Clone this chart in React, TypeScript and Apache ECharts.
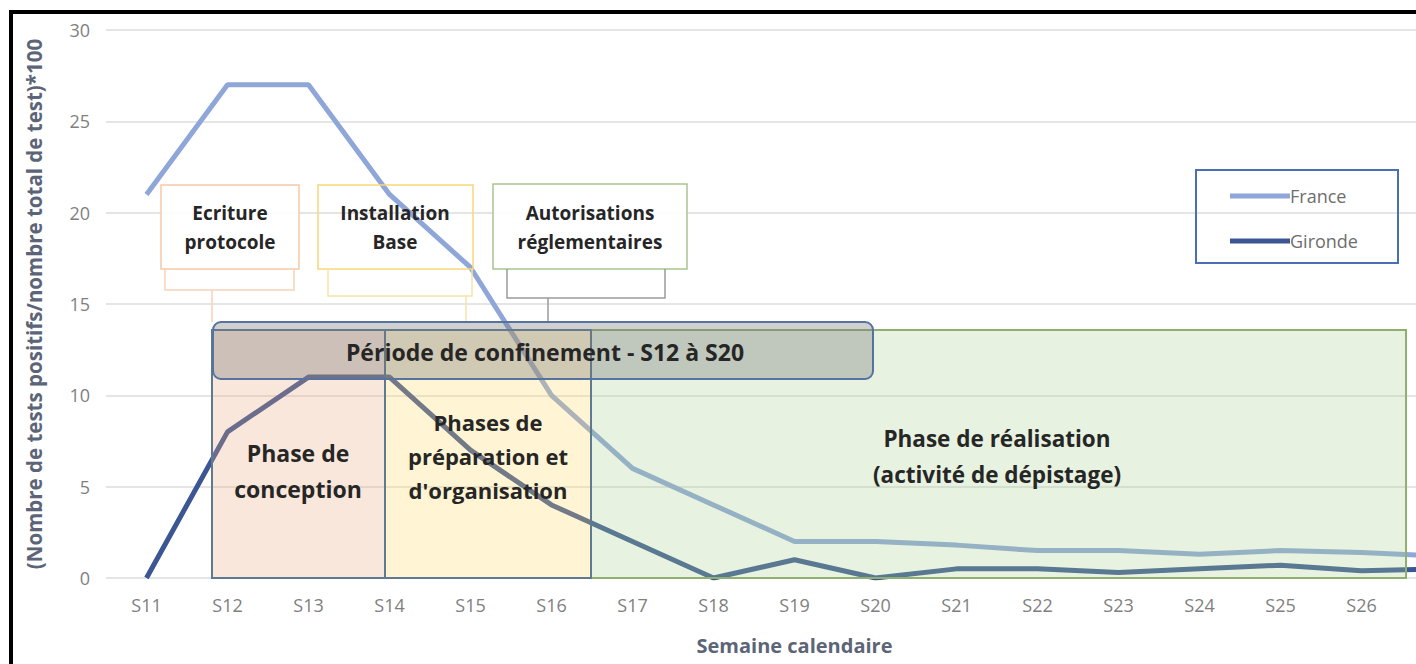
import React, { useEffect, useRef } from "react";
import * as echarts from "echarts";

const weeks = ["S11","S12","S13","S14","S15","S16","S17","S18","S19","S20","S21","S22","S23","S24","S25","S26","S27"];
const france = [21, 27, 27, 21, 17, 10, 6, 4, 2, 2, 1.8, 1.5, 1.5, 1.3, 1.5, 1.4, 1.2];
const gironde = [0, 8, 11, 11, 7, 4, 2, 0, 1, 0, 0.5, 0.5, 0.3, 0.5, 0.7, 0.4, 0.5];
const yTicks = [0, 5, 10, 15, 20, 25, 30];

const FONT = "'Open Sans', 'Noto Sans', sans-serif";
const DARK = "#262626";

export default function App() {
  const ref = useRef<HTMLDivElement>(null);
  useEffect(() => {
    if (!ref.current) return;
    const chart = echarts.init(ref.current, undefined, { renderer: "svg" });
    const boldText = (x: number, y: number, text: string, size: number, lh: number) => ({
      type: "text", x, y, z: 120,
      style: { text, fill: DARK, font: `bold ${size}px ${FONT}`, align: "center", verticalAlign: "middle", lineHeight: lh },
    });
    chart.setOption({
      animation: false,
      backgroundColor: "#ffffff",
      textStyle: { fontFamily: FONT },
      grid: { left: 106, right: 17, top: 30, bottom: 86, containLabel: false, outerBoundsMode: "none" },
      xAxis: {
        type: "category",
        data: weeks,
        boundaryGap: true,
        name: "Semaine calendaire",
        nameLocation: "middle",
        nameGap: 57,
        nameTextStyle: { color: "#5B6577", fontWeight: "bold", fontSize: 20, fontFamily: FONT },
        axisLine: { show: false },
        axisTick: { show: false },
        axisLabel: {
          color: "#7F7F7F", fontSize: 18, margin: 18, fontFamily: FONT,
          formatter: (v: string) => (v === weeks[weeks.length - 1] ? "" : v),
        },
        splitLine: { show: false },
      },
      yAxis: {
        type: "value",
        min: yTicks[0],
        max: yTicks[yTicks.length - 1],
        interval: 5,
        name: "(Nombre de tests positifs/nombre total de test)*100",
        nameLocation: "middle",
        nameGap: 62,
        nameRotate: 90,
        nameTextStyle: { color: "#5B6577", fontWeight: "bold", fontSize: 20.5, fontFamily: FONT },
        axisLine: { show: false },
        axisTick: { show: false },
        axisLabel: { color: "#7F7F7F", fontSize: 18, margin: 16, fontFamily: FONT },
        splitLine: { lineStyle: { color: "#DCDCDC", width: 1.5 } },
      },
      series: [
        {
          name: "France", type: "line", data: france, symbol: "none",
          lineStyle: { color: "#8EA6D8", width: 5 }, itemStyle: { color: "#8EA6D8" },
        },
        {
          name: "Gironde", type: "line", data: gironde, symbol: "none",
          lineStyle: { color: "#3B5693", width: 5 }, itemStyle: { color: "#3B5693" },
        },
      ],
      legend: {
        orient: "vertical",
        left: 1225,
        top: 182,
        itemWidth: 60,
        itemHeight: 5,
        itemGap: 27,
        icon: "rect",
        textStyle: { color: "#6E6E6E", fontSize: 18, fontFamily: FONT, padding: [0, 0, 0, -5] },
        data: ["France", "Gironde"],
      },
      graphic: [
        { type: "rect", z: 130, shape: { x: 11, y: 12, width: 1500, height: 700 }, style: { fill: "none", stroke: "#000", lineWidth: 4 } },
        { type: "rect", z: 100, shape: { x: 1196, y: 170, width: 202, height: 93 }, style: { fill: "none", stroke: "#4A6FB5", lineWidth: 2 } },
        { type: "rect", z: 100, shape: { x: 161, y: 185, width: 138, height: 84 }, style: { fill: "rgba(255,255,255,0.9)", stroke: "#F6C9A6", lineWidth: 1.5 } },
        { type: "polyline", z: 100, shape: { points: [[165, 269], [165, 290], [294, 290], [294, 269]] }, style: { fill: "none", stroke: "#F6D2BA", lineWidth: 1.5 } },
        { type: "line", z: 100, shape: { x1: 212, y1: 290, x2: 212, y2: 322 }, style: { stroke: "#F6D2BA", lineWidth: 1.5 } },
        { type: "rect", z: 100, shape: { x: 318, y: 185, width: 155, height: 84 }, style: { fill: "none", stroke: "#F7D779", lineWidth: 1.5 } },
        { type: "polyline", z: 100, shape: { points: [[328, 269], [328, 296], [472, 296], [472, 269]] }, style: { fill: "none", stroke: "#F7E3A8", lineWidth: 1.5 } },
        { type: "line", z: 100, shape: { x1: 466, y1: 296, x2: 466, y2: 322 }, style: { stroke: "#F7E3A8", lineWidth: 1.5 } },
        { type: "rect", z: 100, shape: { x: 493, y: 184, width: 194, height: 85 }, style: { fill: "rgba(255,255,255,0.9)", stroke: "#A9C58F", lineWidth: 1.5 } },
        { type: "polyline", z: 100, shape: { points: [[507, 269], [507, 298], [665, 298], [665, 269]] }, style: { fill: "none", stroke: "#9A9A9A", lineWidth: 1.5 } },
        { type: "line", z: 100, shape: { x1: 548, y1: 298, x2: 548, y2: 322 }, style: { stroke: "#9A9A9A", lineWidth: 1.5 } },
        boldText(230, 227, "Ecriture\nprotocole", 19, 29),
        boldText(395, 227, "Installation\nBase", 19, 29),
        boldText(590, 227, "Autorisations\nréglementaires", 19, 29),
        { type: "rect", z: 105, shape: { x: 212, y: 330, width: 173, height: 248 }, style: { fill: "rgba(237,170,125,0.28)", stroke: "#5E7A91", lineWidth: 2 } },
        { type: "rect", z: 105, shape: { x: 385, y: 330, width: 206, height: 248 }, style: { fill: "rgba(255,217,102,0.28)", stroke: "#5E7A91", lineWidth: 2 } },
        { type: "rect", z: 104, shape: { x: 591, y: 330, width: 815, height: 248 }, style: { fill: "rgba(169,209,142,0.28)", stroke: "#8FB070", lineWidth: 2 } },
        { type: "line", z: 106, shape: { x1: 591, y1: 330, x2: 591, y2: 578 }, style: { stroke: "#5E7A91", lineWidth: 2 } },
        { type: "rect", z: 110, shape: { x: 213, y: 322, width: 660, height: 57, r: 8 }, style: { fill: "rgba(120,120,120,0.35)", stroke: "#5572A0", lineWidth: 2 } },
        boldText(545, 352, "Période de confinement - S12 à S20", 23, 26),
        boldText(298, 471, "Phase de\nconception", 23, 36),
        boldText(488, 456, "Phases de\npréparation et\nd'organisation", 22, 34),
        boldText(997, 456, "Phase de réalisation\n(activité de dépistage)", 22.5, 36),
      ],
    });
    return () => chart.dispose();
  }, []);
  return (
    <div style={{ position: "fixed", left: 0, top: 0, width: 1416, height: 664, overflow: "hidden", background: "#fff" }}>
      <div ref={ref} style={{ width: 1500, height: 664 }} />
    </div>
  );
}
